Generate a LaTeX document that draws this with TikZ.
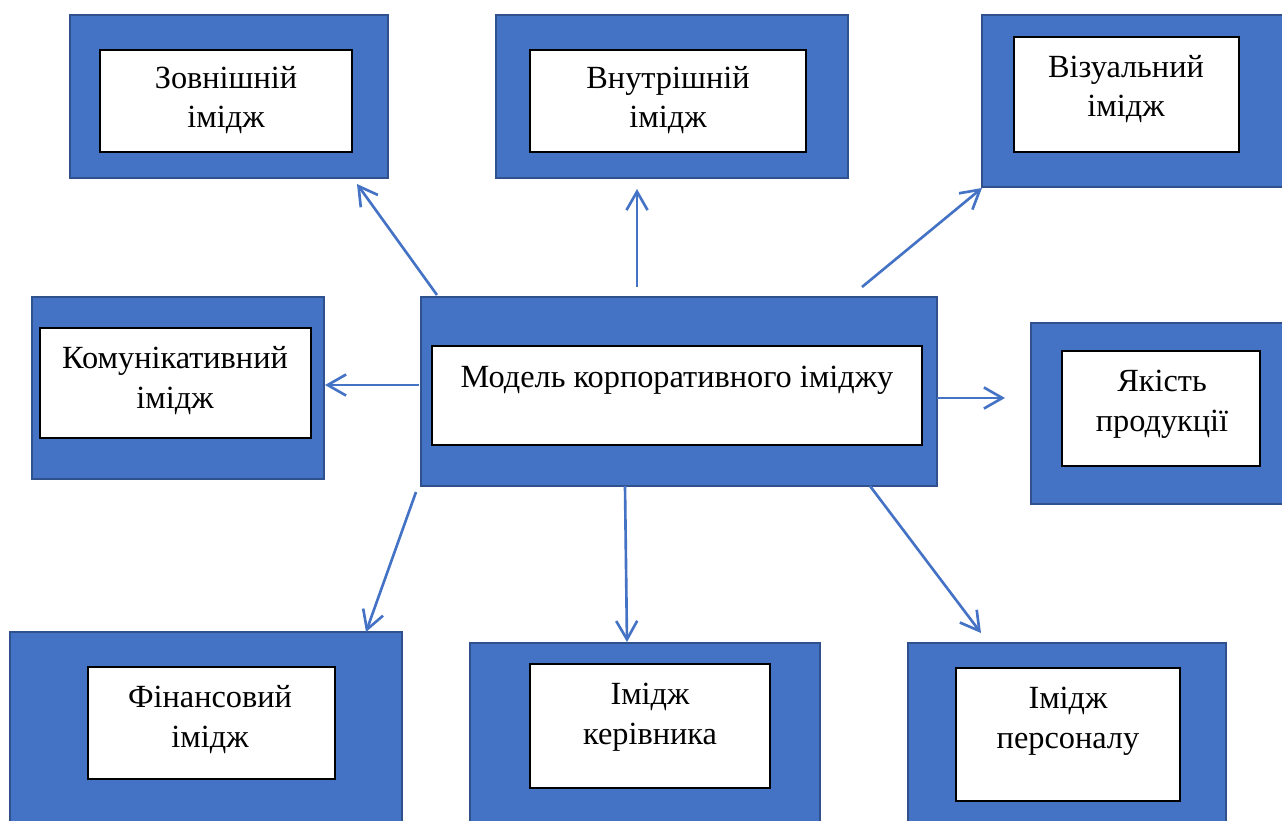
\documentclass[tikz,border=0pt]{standalone}
\usepackage{fontspec}
\setmainfont{Liberation Serif}
\usetikzlibrary{arrows.meta, fit, calc}
\definecolor{boxblue}{RGB}{68, 114, 196}
\definecolor{boxedge}{RGB}{47, 82, 143}

\begin{document}
\begin{tikzpicture}[x=0.02cm, y=-0.02cm,
    outerbox/.style={fill=boxblue, draw=boxedge, line width=0.8pt, inner sep=0pt},
    innerbox/.style={fill=white, draw=black, line width=0.6pt, inner sep=0pt},
    boxtext/.style={anchor=base, align=center, inner sep=0pt, font=\fontsize{18.4}{22.7}\selectfont},
    link/.style={draw=boxblue, line width=1.5pt, -{Straight Barb[length=10.5pt, width=12pt]}}]
        \clip (0,0) rectangle (1282,821);

        % Top row (text nodes sit on the last line's baseline)
        \node[outerbox, fit={(70,15) (388,178)}] (zovn) {};
        \node[innerbox, fit={(100,50) (352,152)}] (zovn-in) {};
        \node[boxtext] (zovn-txt) at (226,128) {Зовнішній\\імідж};

        \node[outerbox, fit={(496,15) (848,178)}] (vnutr) {};
        \node[innerbox, fit={(530,50) (806,152)}] (vnutr-in) {};
        \node[boxtext] (vnutr-txt) at (668,128) {Внутрішній\\імідж};

        \node[outerbox, fit={(982,15) (1290,187)}] (vizual) {};
        \node[innerbox, fit={(1014,37) (1239,152)}] (vizual-in) {};
        \node[boxtext] (vizual-txt) at (1126,117) {Візуальний\\імідж};

        % Middle row
        \node[outerbox, fit={(32,297) (324,479)}] (komun) {};
        \node[innerbox, fit={(40,328) (311,438)}] (komun-in) {};
        \node[boxtext] (komun-txt) at (175,408) {Комунікативний\\імідж};

        \node[outerbox, fit={(421,297) (937,486)}] (model) {};
        \node[innerbox, fit={(432,346) (922,445)}] (model-in) {};
        \node[boxtext] (model-txt) at (677,387) {Модель корпоративного іміджу};

        \node[outerbox, fit={(1031,323) (1290,504)}] (yakist) {};
        \node[innerbox, fit={(1062,351) (1260,466)}] (yakist-in) {};
        \node[boxtext] (yakist-txt) at (1162,431) {Якість\\продукції};

        % Bottom row
        \node[outerbox, fit={(10,632) (402,830)}] (finans) {};
        \node[innerbox, fit={(88,667) (335,779)}] (finans-in) {};
        \node[boxtext] (finans-txt) at (210,747) {Фінансовий\\імідж};

        \node[outerbox, fit={(470,643) (820,830)}] (kerivn) {};
        \node[innerbox, fit={(530,664) (770,788)}] (kerivn-in) {};
        \node[boxtext] (kerivn-txt) at (650,744) {Імідж\\керівника};

        \node[outerbox, fit={(908,643) (1226,830)}] (person) {};
        \node[innerbox, fit={(956,668) (1180,801)}] (person-in) {};
        \node[boxtext] (person-txt) at (1068,748) {Імідж\\персоналу};

        % Arrow ends
        \coordinate (a1) at (437,295); \coordinate (b1) at (357,184);
        \coordinate (a2) at (637,287); \coordinate (b2) at (637,189);
        \coordinate (a3) at (862,287); \coordinate (b3) at (982,188);
        \coordinate (a4) at (419,385); \coordinate (b4) at (325,385);
        \coordinate (a5) at (937,398); \coordinate (b5) at (1005,398);
        \coordinate (a6) at (416,492); \coordinate (b6) at (366,632);
        \coordinate (a7) at (625,486); \coordinate (b7) at (627,642);
        \coordinate (a8) at (870,486); \coordinate (b8) at (981,633);

        \foreach \i in {1,...,8} {
            \draw[link] (a\i) -- (b\i);
        }
    \end{tikzpicture}
\end{document}
